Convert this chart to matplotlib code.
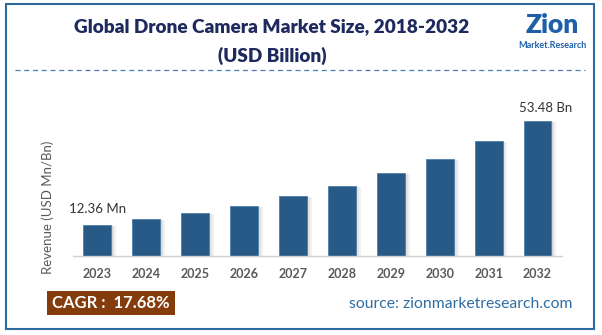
import numpy as np
import matplotlib
matplotlib.use("Agg")
import matplotlib.pyplot as plt
from matplotlib.patches import Rectangle

# values (USD Billion)
years = ["2023", "2024", "2025", "2026", "2027", "2028", "2029", "2030", "2031", "2032"]
revenue = [12.36, 14.5, 16.9, 19.9, 23.6, 27.6, 32.7, 38.3, 45.4, 53.48]
first_label = "12.36 Mn"
last_label = "53.48 Bn"
cagr_text = "CAGR :  17.68%"

plt.rcParams['font.family'] = ['Lato', 'DejaVu Sans']

fig = plt.figure(figsize=(6.02, 3.35), dpi=100)
W, H = 602, 335

# outer frame
fig.patches.append(Rectangle((6 / W, 1 - 329 / H), 588 / W, 325 / H, transform=fig.transFigure,
                             fill=False, edgecolor="#2f6a9e", linewidth=1.5))

# title
fig.text(272 / W, 1 - 27 / H, "Global Drone Camera Market Size, 2018-2032", ha="center", va="center",
         fontsize=13.7, fontweight="heavy", color="#1e2a5e")
fig.text(272 / W, 1 - 56 / H, "(USD Billion)", ha="center", va="center",
         fontsize=13.7, fontweight="heavy", color="#1e2a5e")

# dashed separator
fig.add_artist(plt.Line2D([15 / W, 585 / W], [1 - 70 / H, 1 - 70 / H], transform=fig.transFigure,
                          color="#4f7fb0", linewidth=0.9, linestyle=(0, (4, 3))))

# logo (text stand-in)
fig.text(552 / W, 1 - 25 / H, "Zion", ha="center", va="center", fontsize=19, fontweight="heavy",
         color="#1f5fa8")
fig.text(552 / W, 1 - 45 / H, "Market.Research", ha="center", va="center", fontsize=6.5,
         fontweight="bold", color="#1f5fa8")

# plot area
ax = fig.add_axes([72.7 / W, 1 - 256 / H, (562 - 72.7) / W, 166 / H])
x = np.arange(len(years))
# soft shadow to the right of each bar
for k, a in [(0.10, 0.10), (0.06, 0.12), (0.03, 0.15)]:
    ax.bar(x + k, np.array(revenue) - 0.4, width=0.57, color="#7f7f7f", alpha=a, zorder=1)
ax.bar(x, revenue, width=0.57, color="#275a87", edgecolor="#4f7fa8", linewidth=0.6, zorder=2)

ax.set_xlim(-0.5, 9.5)
ax.set_ylim(0, 65.76)
ax.set_xticks(x)
ax.set_xticklabels(years, fontsize=9, fontweight="bold", color="#595959")
ax.tick_params(axis="x", length=0, pad=9)
ax.set_yticks([])
for s in ["top", "right", "left"]:
    ax.spines[s].set_visible(False)
ax.spines["bottom"].set_color("#d0d0d0")
ax.spines["bottom"].set_linewidth(1)

ax.annotate(first_label, (x[0], revenue[0]), xytext=(0, 7), textcoords="offset points",
            ha="center", va="bottom", fontsize=9.5, color="#333333")
ax.annotate(last_label, (x[-1], revenue[-1]), xytext=(6, 5), textcoords="offset points",
            ha="center", va="bottom", fontsize=9.5, color="#333333")

fig.text(48 / W, 1 - 207 / H, "Revenue (USD Mn/Bn)", rotation=90, ha="center", va="center",
         fontsize=9.5, color="#595959")

# CAGR box
fig.patches.append(Rectangle((47 / W, 1 - 315 / H), 128 / W, 24 / H, transform=fig.transFigure,
                             facecolor="#843c0c", edgecolor="none"))
fig.text(111 / W, 1 - 303 / H, cagr_text, ha="center", va="center", fontsize=12,
         fontweight="bold", color="white")

fig.text(461 / W, 1 - 304 / H, "source: zionmarketresearch.com", ha="center", va="center",
         fontsize=11.3, color="#2e6da4")

fig.savefig("out.png", dpi=100)
